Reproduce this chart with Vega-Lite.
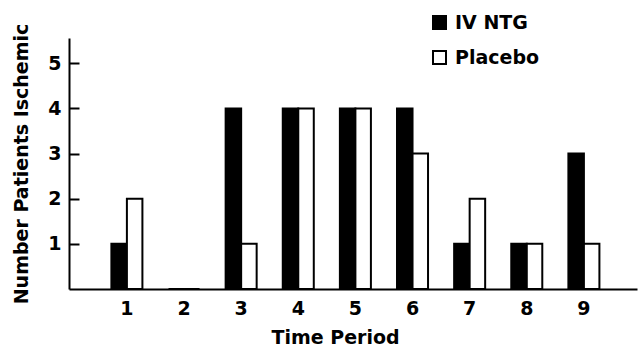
{
  "$schema": "https://vega.github.io/schema/vega-lite/v6.json",
  "autosize": "none",
  "width": 568,
  "height": 251,
  "padding": {"left": 69, "top": 38, "right": 1, "bottom": 61},
  "background": "white",
  "config": {
    "view": {"stroke": null},
    "font": "DejaVu Sans",
    "axis": {"labelFont": "DejaVu Sans", "titleFont": "DejaVu Sans", "labelFontWeight": "bold", "titleFontWeight": "bold", "labelColor": "black", "titleColor": "black", "domainColor": "black", "tickColor": "black", "domainWidth": 2, "tickWidth": 2, "grid": false},
    "legend": {"labelFont": "DejaVu Sans", "labelFontWeight": "bold", "labelColor": "black"}
  },
  "data": {
    "values": [
      {"Period": "1", "Group": "IV NTG", "Count": 1},
      {"Period": "1", "Group": "Placebo", "Count": 2},
      {"Period": "2", "Group": "IV NTG", "Count": 0},
      {"Period": "2", "Group": "Placebo", "Count": 0},
      {"Period": "3", "Group": "IV NTG", "Count": 4},
      {"Period": "3", "Group": "Placebo", "Count": 1},
      {"Period": "4", "Group": "IV NTG", "Count": 4},
      {"Period": "4", "Group": "Placebo", "Count": 4},
      {"Period": "5", "Group": "IV NTG", "Count": 4},
      {"Period": "5", "Group": "Placebo", "Count": 4},
      {"Period": "6", "Group": "IV NTG", "Count": 4},
      {"Period": "6", "Group": "Placebo", "Count": 3},
      {"Period": "7", "Group": "IV NTG", "Count": 1},
      {"Period": "7", "Group": "Placebo", "Count": 2},
      {"Period": "8", "Group": "IV NTG", "Count": 1},
      {"Period": "8", "Group": "Placebo", "Count": 1},
      {"Period": "9", "Group": "IV NTG", "Count": 3},
      {"Period": "9", "Group": "Placebo", "Count": 1}
    ]
  },
  "mark": {"type": "bar", "stroke": "black", "strokeWidth": 2},
  "encoding": {
    "x": {
      "field": "Period", "type": "nominal",
      "scale": {"paddingInner": 0.457, "paddingOuter": 0.7, "align": 0.53},
      "axis": {"title": "Time Period", "labelAngle": 0, "ticks": false, "labelFontSize": 19, "titleFontSize": 19, "labelPadding": 10, "titlePadding": 10, "titleX": 266}
    },
    "xOffset": {"field": "Group", "type": "nominal", "scale": {"paddingInner": 0, "paddingOuter": 0}},
    "y": {
      "field": "Count", "type": "quantitative",
      "scale": {"domain": [0, 5.56], "nice": false},
      "axis": {"title": "Number Patients Ischemic", "values": [1, 2, 3, 4, 5], "tickSize": -10, "labelPadding": 18, "labelFontSize": 19, "titleFontSize": 19, "titlePadding": 16}
    },
    "fill": {
      "field": "Group", "type": "nominal",
      "scale": {"domain": ["IV NTG", "Placebo"], "range": ["black", "white"]},
      "legend": {"title": null, "orient": "none", "legendX": 361, "legendY": -25, "symbolType": "square", "symbolSize": 169, "symbolStrokeColor": "black", "symbolStrokeWidth": 2, "labelFontSize": 19, "rowPadding": 14, "labelOffset": 6}
    }
  }
}
